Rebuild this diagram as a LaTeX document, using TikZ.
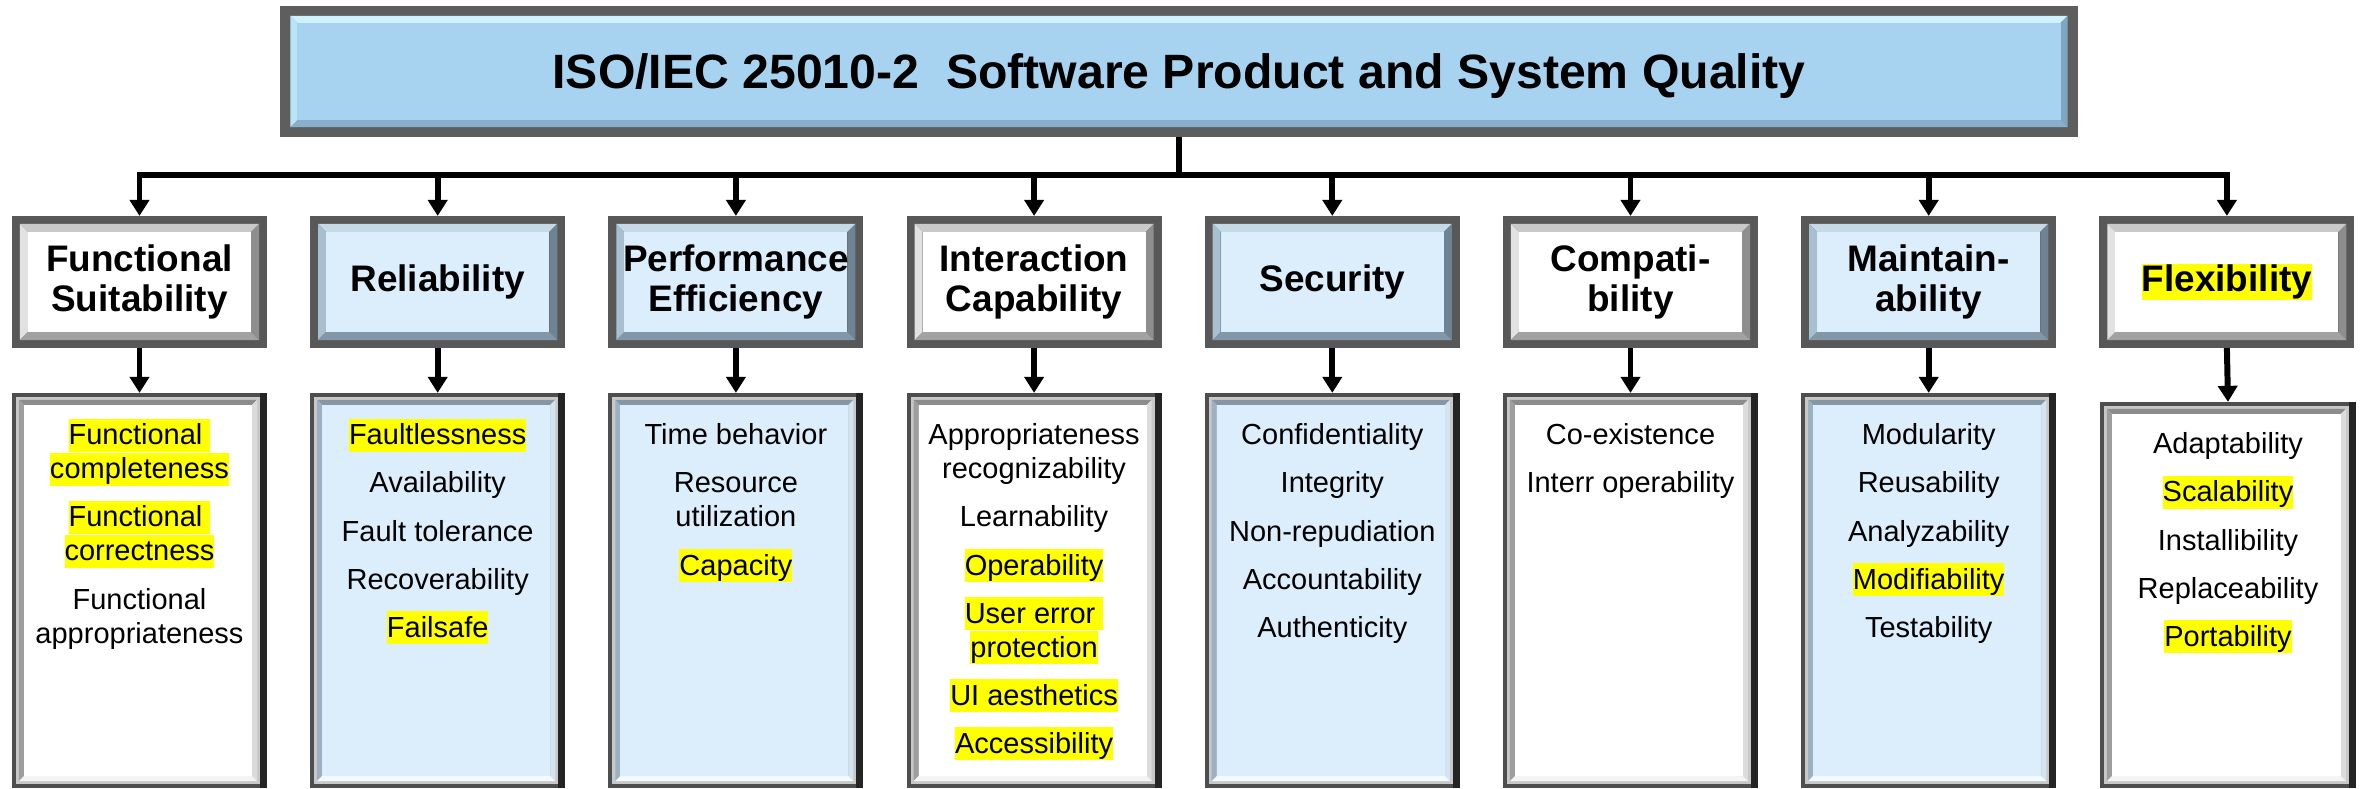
\documentclass[tikz,border=0pt]{standalone}
\usepackage{fontspec}
\setmainfont{Liberation Sans}
\usetikzlibrary{arrows.meta,calc,backgrounds}

% colours
\definecolor{hlyellow}{HTML}{FFFF00}
\definecolor{boxblue}{HTML}{DCEEFB}
\definecolor{titleblue}{HTML}{A8D3F0}
\definecolor{frameC}{HTML}{585858}
\definecolor{cwTop}{HTML}{C9C9C9}
\definecolor{cwLeft}{HTML}{E2E2E2}
\definecolor{cwRight}{HTML}{8E8E8E}
\definecolor{cwBot}{HTML}{A2A2A2}
\definecolor{cbTop}{HTML}{C6D9E6}
\definecolor{cbLeft}{HTML}{A7BFD1}
\definecolor{cbRight}{HTML}{6E8494}
\definecolor{cbBot}{HTML}{8297A7}
\definecolor{tFrame}{HTML}{5E5E5E}
\definecolor{tTop}{HTML}{CFF3FC}
\definecolor{tLeft}{HTML}{B8E4F7}
\definecolor{tRight}{HTML}{7FA7C3}
\definecolor{tBot}{HTML}{88AFCB}
\definecolor{lFrame}{HTML}{4E4E4E}
\definecolor{lDark}{HTML}{242424}
\definecolor{lRing}{HTML}{C8C8C8}
\definecolor{lwTop}{HTML}{8C8C8C}
\definecolor{lwLeft}{HTML}{9E9E9E}
\definecolor{lwRight}{HTML}{DCDCDC}
\definecolor{lwBot}{HTML}{F4F4F4}
\definecolor{lbTop}{HTML}{8597A6}
\definecolor{lbLeft}{HTML}{9BB0C0}
\definecolor{lbRight}{HTML}{D2E4F0}
\definecolor{lbBot}{HTML}{F2FAFF}

% fonts
\newcommand{\titlefont}{\bfseries\fontsize{13.7}{16.4}\selectfont}
\newcommand{\catfont}{\bfseries\fontsize{10.5}{11.6}\selectfont}
\newcommand{\itemfont}{\fontsize{8.25}{9.67}\selectfont}

% highlighting
\newcommand{\lstrut}{\rule[-2pt]{0pt}{9.4pt}}
\newcommand{\hlt}[1]{{\setlength{\fboxsep}{0pt}\colorbox{hlyellow}{\lstrut#1}}}
\newcommand{\hlsp}[1]{{\setlength{\fboxsep}{0pt}\colorbox{hlyellow}{\lstrut#1\ }}\hspace{-\fontdimen2\font}}
\newcommand{\hlcat}[1]{{\setlength{\fboxsep}{0pt}\colorbox{hlyellow}{\rule[-2.4pt]{0pt}{10pt}#1}}}

% bevel between two corner coordinates: corners, width, top, left, right, bottom, fill
\newcommand{\bevelin}[8]{%
  \coordinate (bi1) at ($(#1)+(#3,#3)$);
  \coordinate (bi2) at ($(#2)-(#3,#3)$);
  \fill[#4] (#1) -- (#1 -| #2) -- (bi1 -| bi2) -- (bi1) -- cycle;
  \fill[#5] (#1) -- (bi1) -- (bi1 |- bi2) -- (#1 |- #2) -- cycle;
  \fill[#6] (#1 -| #2) -- (#2) -- (bi2) -- (bi1 -| bi2) -- cycle;
  \fill[#7] (#1 |- #2) -- (#2) -- (bi2) -- (bi1 |- bi2) -- cycle;
  \fill[#8] (bi1) rectangle (bi2);
}
% framed bevelled box behind a node: node, frame, bevel, frame colour, top, left, right, bottom, fill
\newcommand{\bevelbox}[9]{%
  \fill[#4] (#1.north west) rectangle (#1.south east);
  \coordinate (bo1) at ($(#1.north west)+(#2,#2)$);
  \coordinate (bo2) at ($(#1.south east)-(#2,#2)$);
  \bevelin{bo1}{bo2}{#3}{#5}{#6}{#7}{#8}{#9}
}
% list panel frame: node, top, left, right, bottom, fill
\newcommand{\listframe}[6]{%
  \fill[lFrame] (#1.north west) rectangle (#1.south east);
  \fill[lDark] ($(#1.north east)+(-7,0)$) rectangle (#1.south east);
  \coordinate (bo1) at ($(#1.north west)+(4,4)$);
  \coordinate (bo2) at ($(#1.south east)-(7,4)$);
  \fill[lRing] (bo1) rectangle (bo2);
  \coordinate (bo1) at ($(#1.north west)+(7,7)$);
  \coordinate (bo2) at ($(#1.south east)-(10,7)$);
  \bevelin{bo1}{bo2}{5}{#2}{#3}{#4}{#5}{#6}
}

\begin{document}
\begin{tikzpicture}[x=0.01cm, y=-0.01cm,
  conn/.style={line width=1.7pt, black},
  arr/.style={conn, -{Triangle[width=0.19cm,length=0.16cm]}},
  cat/.style={rectangle, inner sep=0pt, outer sep=0pt, minimum width=2.55cm,
    minimum height=1.32cm, align=center, font=\catfont},
  lst/.style={rectangle, inner sep=0pt, outer sep=0pt, minimum width=2.55cm,
    minimum height=3.95cm},
  items/.style={anchor=north, inner sep=0pt, outer sep=0pt, align=center, font=\itemfont},
]
\useasboundingbox (0,0) rectangle (2362,789);

% title
\node[rectangle, inner sep=0pt, outer sep=0pt, minimum width=17.96cm, minimum height=1.31cm,
  font=\titlefont, text height=9.8pt, text depth=0pt] (title) at (1179,71.5)
  {ISO/IEC 25010-2\ \ Software Product and System Quality};

% characteristics
\node[cat] (c1) at (139.5,282)  {Functional\\Suitability};
\node[cat] (c2) at (437.7,282)  {Reliability};
\node[cat] (c3) at (735.9,282)  {Performance\\Efficiency};
\node[cat] (c4) at (1034.1,282) {Interaction\\Capability};
\node[cat] (c5) at (1332.3,282) {Security};
\node[cat] (c6) at (1630.5,282) {Compati-\\bility};
\node[cat] (c7) at (1928.7,282) {Maintain-\\ability};
\node[cat] (c8) at (2226.9,282) {\hlcat{Flexibility}};

% sub-characteristic panels
\node[lst] (l1) at (139.5,590.5)  {};
\node[lst] (l2) at (437.7,590.5)  {};
\node[lst] (l3) at (735.9,590.5)  {};
\node[lst] (l4) at (1034.1,590.5) {};
\node[lst] (l5) at (1332.3,590.5) {};
\node[lst] (l6) at (1630.5,590.5) {};
\node[lst] (l7) at (1928.7,590.5) {};
\node[lst, minimum width=2.56cm, minimum height=3.86cm] (l8) at (2228,595) {};

\node[items] (t1) at ($(l1.north)+(0,26)$) {%
  \hlsp{Functional}\\ \hlt{completeness}\\[4pt]
  \hlsp{Functional}\\ \hlt{correctness}\\[4pt]
  Functional\\ appropriateness};
\node[items] (t2) at ($(l2.north)+(0,26)$) {%
  \hlt{Faultlessness}\\[4pt] Availability\\[4pt] Fault tolerance\\[4pt]
  Recoverability\\[4pt] \hlt{Failsafe}};
\node[items] (t3) at ($(l3.north)+(0,26)$) {%
  \lstrut Time behavior\\[4pt] Resource\\ utilization\\[4pt] \hlt{Capacity}};
\node[items] (t4) at ($(l4.north)+(0,26)$) {%
  \lstrut Appropriateness\\ recognizability\\[4pt] Learnability\\[4pt]
  \hlt{Operability}\\[4pt] \hlsp{User error}\\ \hlt{protection}\\[4pt]
  \hlt{UI aesthetics}\\[4pt] \hlt{Accessibility}};
\node[items] (t5) at ($(l5.north)+(0,26)$) {%
  \lstrut Confidentiality\\[4pt] Integrity\\[4pt] Non-repudiation\\[4pt]
  Accountability\\[4pt] Authenticity};
\node[items] (t6) at ($(l6.north)+(0,26)$) {%
  \lstrut Co-existence\\[4pt] Interr operability};
\node[items] (t7) at ($(l7.north)+(0,26)$) {%
  \lstrut Modularity\\[4pt] Reusability\\[4pt] Analyzability\\[4pt]
  \hlt{Modifiability}\\[4pt] Testability};
\node[items] (t8) at ($(l8.north)+(0,26)$) {%
  \lstrut Adaptability\\[4pt] \hlt{Scalability}\\[4pt] Installibility\\[4pt]
  Replaceability\\[4pt] \hlt{Portability}};

% bevelled frames
\begin{scope}[on background layer]
  \fill[white] (0,0) rectangle (2362,789);
  \bevelbox{title}{10}{7}{tFrame}{tTop}{tLeft}{tRight}{tBot}{titleblue}
  \bevelbox{c1}{8}{8}{frameC}{cwTop}{cwLeft}{cwRight}{cwBot}{white}
  \bevelbox{c2}{8}{8}{frameC}{cbTop}{cbLeft}{cbRight}{cbBot}{boxblue}
  \bevelbox{c3}{8}{8}{frameC}{cbTop}{cbLeft}{cbRight}{cbBot}{boxblue}
  \bevelbox{c4}{8}{8}{frameC}{cwTop}{cwLeft}{cwRight}{cwBot}{white}
  \bevelbox{c5}{8}{8}{frameC}{cbTop}{cbLeft}{cbRight}{cbBot}{boxblue}
  \bevelbox{c6}{8}{8}{frameC}{cwTop}{cwLeft}{cwRight}{cwBot}{white}
  \bevelbox{c7}{8}{8}{frameC}{cbTop}{cbLeft}{cbRight}{cbBot}{boxblue}
  \bevelbox{c8}{8}{8}{frameC}{cwTop}{cwLeft}{cwRight}{cwBot}{white}
  \listframe{l1}{lwTop}{lwLeft}{lwRight}{lwBot}{white}
  \listframe{l2}{lbTop}{lbLeft}{lbRight}{lbBot}{boxblue}
  \listframe{l3}{lbTop}{lbLeft}{lbRight}{lbBot}{boxblue}
  \listframe{l4}{lwTop}{lwLeft}{lwRight}{lwBot}{white}
  \listframe{l5}{lbTop}{lbLeft}{lbRight}{lbBot}{boxblue}
  \listframe{l6}{lwTop}{lwLeft}{lwRight}{lwBot}{white}
  \listframe{l7}{lbTop}{lbLeft}{lbRight}{lbBot}{boxblue}
  \listframe{l8}{lwTop}{lwLeft}{lwRight}{lwBot}{white}
\end{scope}

% connectors
\coordinate (hub) at (1179,175);
\draw[conn] (title.south) -- (hub);
\draw[conn, line cap=rect] (c1.north |- hub) -- (c8.north |- hub);
\foreach \i in {1,...,8} {
  \draw[arr] (c\i.north |- hub) -- (c\i.north);
  \draw[arr] (c\i.south) -- (l\i.north);
}
\end{tikzpicture}
\end{document}
